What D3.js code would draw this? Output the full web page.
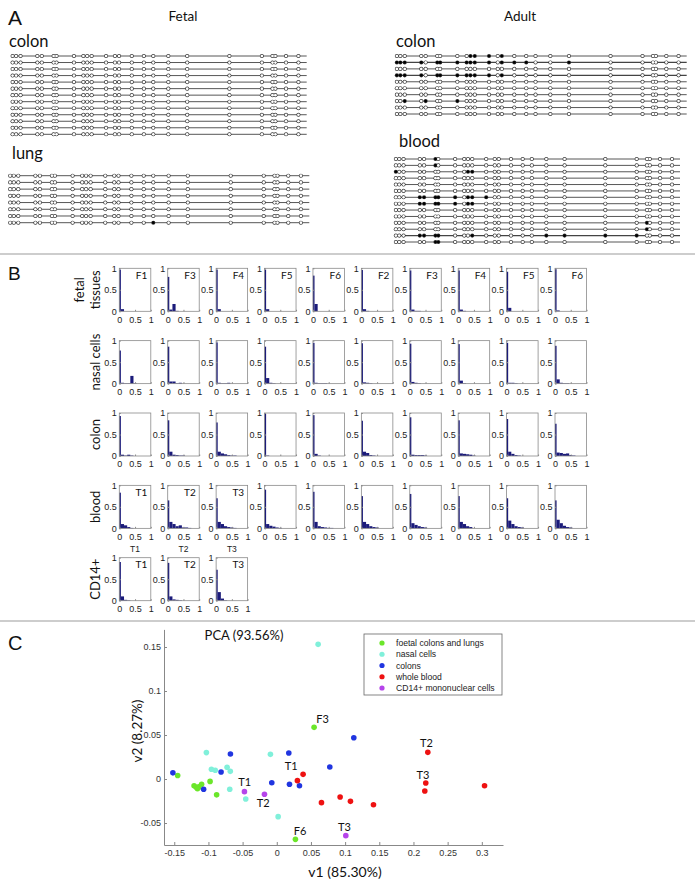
<!DOCTYPE html>
<html><head><meta charset="utf-8">
<script src="https://cdn.jsdelivr.net/npm/d3@7"></script>
<style>body{margin:0;background:#fff}</style>
</head><body>
<svg id="fig" width="695" height="888"></svg>
<script>
// ---------------- DATA ----------------
// Panel A: CpG site positions (relative units 0..1000 along the amplicon)
const cpgSites = [3, 15, 30, 87, 102, 142, 152, 211, 243, 256, 271, 320, 350, 364, 407, 448, 480, 531, 595, 738, 848, 884, 894, 930, 972];
// methylated site indices per clone (row)
const fetalColonMeth = [[],[],[],[],[],[],[],[],[],[],[],[],[]];
const fetalLungMeth = [[],[],[],[],[],[],[],[16]];
const adultColonMeth = [[9,10,11,13],[0,1,2,3,5,6,7,8,9,10,11,13,14,15,18],[],[0,1,2,3,5,6,7,8,9,10,11,13],[],[],[],[2,4,7],[],[]];
const adultBloodMeth = [[5],[5],[0,9,10],[],[],[],[3,4,5,6,7,9,10,11],[3,4,5,6,7,9,10],[],[],[21],[21],[3,4,5,6,10,17,18,19,20],[5,6]];

// Panel B: histogram bin centres and frequencies
const histBins = [0,0.1,0.2,0.3,0.4,0.5,0.6,0.7,0.8,0.9,1.0];
const histRowNames = [["fetal","tissues"],["nasal cells"],["colon"],["blood"],["CD14+"]];
const histTitles = [
  ["F1","F3","F4","F5","F6","F2","F3","F4","F5","F6"],
  ["","","","","","","","","",""],
  ["","","","","","","","","",""],
  ["T1","T2","T3","","","","","","",""],
  ["T1","T2","T3"]
];
const histUnderLabels = ["T1","T2","T3"];
const histFetal = [
  [0.97,0.05],[0.80,0.04,0.17,0.01],[0.97,0.05],[0.97,0.05],[0.83,0.17],
  [0.96,0.05,0.01],[0.95,0.04,0.01,0.01],[0.95,0.04,0.01],[0.92,0.08],[0.98,0.02]
];
const histNasal = [
  [0.77,0.02,0.01,0.01,0.18,0.01],[0.86,0.05,0.05,0.01,0.02],[0.96,0.02,0.01,0.01,0.02],[0.86,0.13,0.02,0.01],[0.95,0.02,0.01,0.01,0.01],
  [0.94,0.03,0.02,0.01],[0.93,0.04,0.02,0.01],[0.92,0.07,0.01],[0.95,0.02,0.02,0.01],[0.88,0.10,0.02,0.01,0.01]
];
const histColon = [
  [0.93,0.03,0.01,0.03,0.01],[0.83,0.10,0.03,0.02,0.01,0.01],[0.78,0.10,0.06,0.04,0.02,0.01,0.01],[0.98,0.01],[0.95,0.05,0.01],
  [0.82,0.10,0.07,0.02,0.01],[0.90,0.03,0.02,0.02,0.02,0.01],[0.83,0.06,0.05,0.04,0.03,0.01],[0.86,0.10,0.05,0.02,0.01],[0.75,0.08,0.07,0.05,0.06,0.02,0.01]
];
const histBlood = [
  [0.83,0.10,0.07,0.03,0.01],[0.65,0.15,0.10,0.05,0.07,0.02,0.02,0.01],[0.70,0.15,0.10,0.05,0.03,0.02,0.01],[0.90,0.10,0.06,0.04,0.02,0.01],[0.85,0.15,0.05,0.03,0.02,0.01,0.01],
  [0.75,0.15,0.10,0.05,0.03,0.02],[0.80,0.12,0.08,0.05,0.03,0.02],[0.75,0.15,0.10,0.05,0.03],[0.70,0.18,0.10,0.05,0.03,0.02],[0.65,0.20,0.12,0.06,0.03,0.02]
];
const histCD14 = [[0.90,0.10,0.02,0.01],[0.88,0.10,0.03,0.02,0.01],[0.72,0.20,0.05,0.01]];

// Panel C: PCA coordinates [v1, v2]
const pcaGroups = ["foetal colons and lungs","nasal cells","colons","whole blood","CD14+ mononuclear cells"];
const pcaFoetal = [[-0.145,0.004],[-0.121,-0.0076],[-0.118,-0.0095],[-0.114,-0.009],[-0.110,-0.006],[-0.116,-0.011],[-0.0976,-0.0027],[-0.088,-0.018],[0.0546,0.0587],[0.0273,-0.0686]];
const pcaNasal = [[-0.103,0.030],[-0.0956,0.011],[-0.090,0.0099],[-0.0727,0.0133],[-0.068,0.0087],[-0.0688,-0.0117],[-0.0454,-0.0227],[-0.0093,0.028],[0.002,-0.0428],[0.0605,0.153]];
const pcaColons = [[-0.152,0.007],[-0.107,-0.0117],[-0.0815,0.008],[-0.0678,0.0284],[-0.0073,-0.0042],[0.0176,0.0295],[0.0186,-0.006],[0.0332,-0.0076],[0.0776,0.0136],[0.1127,0.0469]];
const pcaBlood = [[0.0302,-0.0019],[0.0385,0.0053],[0.0654,-0.0269],[0.0927,-0.0205],[0.1078,-0.0254],[0.1415,-0.0292],[0.221,0.0303],[0.218,-0.0045],[0.2166,-0.0136],[0.304,-0.0076]];
const pcaCD14 = [[-0.0473,-0.0144],[-0.018,-0.0174],[0.101,-0.0644]];
const pcaLabels = [["T1",-0.047,-0.004],["T2",-0.020,-0.028],["T1",0.021,0.0148],["F3",0.067,0.068],["F6",0.034,-0.059],["T3",0.099,-0.055],["T2",0.219,0.041],["T3",0.214,0.004]];
const pcaXTicks = [-0.15,-0.1,-0.05,0,0.05,0.1,0.15,0.2,0.25,0.3];
const pcaYTicks = [-0.05,0,0.05,0.1,0.15];

// ---------------- DRAWING ----------------
const svg = d3.select("#fig");
const SANS = "'Liberation Sans', Arial, sans-serif";
const HUM = "Lato, 'Open Sans', sans-serif";

// separators
[254, 621].forEach(y => svg.append("line").attr("x1",0).attr("x2",695).attr("y1",y).attr("y2",y)
  .attr("stroke","#bdbdbd").attr("stroke-width",1.5));

// panel letters
[["A",8,25,21],["B",8,280,19],["C",8,650,20]].forEach(([t,x,y,s]) =>
  svg.append("text").attr("x",x).attr("y",y).attr("font-family",SANS).attr("font-size",s).attr("fill","#111").text(t));

// ---------- Panel A ----------
svg.append("text").attr("x",183).attr("y",21).attr("text-anchor","middle").attr("font-family",HUM).attr("font-size",13.5).attr("fill","#111").text("Fetal");
svg.append("text").attr("x",520).attr("y",21).attr("text-anchor","middle").attr("font-family",HUM).attr("font-size",13.5).attr("fill","#111").text("Adult");

const blocks = [
  {title:"colon", meth:fetalColonMeth, x0:11.7, x1:306.7, y0:56, y1:134.3, tx:9, ty:47},
  {title:"lung", meth:fetalLungMeth, x0:9.3, x1:309.3, y0:175.7, y1:222.7, tx:12, ty:159},
  {title:"colon", meth:adultColonMeth, x0:396, x1:686.7, y0:56, y1:114, tx:396, ty:47},
  {title:"blood", meth:adultBloodMeth, x0:395, x1:680, y0:159, y1:242, tx:399, ty:147}
];
blocks.forEach(b => {
  const xs = d3.scaleLinear().domain([0,1000]).range([b.x0,b.x1]);
  const ys = d3.scalePoint().domain(d3.range(b.meth.length)).range([b.y0,b.y1]);
  const g = svg.append("g");
  g.append("text").attr("x",b.tx).attr("y",b.ty).attr("font-family",HUM).attr("font-size",16.5).attr("fill","#111").text(b.title);
  b.meth.forEach((m,ri) => {
    const y = ys(ri);
    g.append("line").attr("x1",xs(0)).attr("x2",xs(1000)).attr("y1",y).attr("y2",y)
      .attr("stroke","#444").attr("stroke-width",m.length>8?1.3:0.9);
    const set = new Set(m);
    g.selectAll(null).data(cpgSites).enter().append("circle")
      .attr("cx",d=>xs(d)).attr("cy",y).attr("r",2.05).attr("fill","#333");
    g.selectAll(null).data(cpgSites).enter().append("circle")
      .attr("cx",d=>xs(d)).attr("cy",y).attr("r",1.35)
      .attr("fill",(d,i)=> set.has(i) ? "#000" : "#fff");
  });
});

// ---------- Panel B ----------
const histAll = [histFetal, histNasal, histColon, histBlood, histCD14];
const colX = d3.scaleLinear().domain([0,9]).range([119.3, 555]);
const rowY = d3.scaleLinear().domain([0,4]).range([268.3, 557.7]);
const HW = 31.5, HH = 43;
const hx = d3.scaleLinear().domain([0,1]).range([0,HW]);
const hy = d3.scaleLinear().domain([0,1]).range([HH,0]);

histAll.forEach((row, r) => {
  const names = histRowNames[r];
  const cy = rowY(r) + HH/2;
  names.forEach((n, k) => {
    const bx = names.length === 2 ? (k===0 ? 84 : 100) : 100;
    svg.append("text").attr("transform",`translate(${bx},${cy}) rotate(-90)`)
      .attr("text-anchor","middle").attr("font-family",HUM).attr("font-size",13).attr("fill","#111").text(n);
  });
  row.forEach((vals, c) => {
    const g = svg.append("g").attr("transform",`translate(${colX(c)},${rowY(r)})`);
    g.append("rect").attr("width",HW).attr("height",HH).attr("fill","#fff");
    const bars = histBins.map((b,i)=>({b, v: vals[i]||0})).filter(d=>d.v>0);
    g.selectAll(null).data(bars).enter().append("rect")
      .attr("x",d=>hx(Math.max(0,d.b-0.05)))
      .attr("width",d=>hx(Math.min(1,d.b+0.05))-hx(Math.max(0,d.b-0.05)))
      .attr("y",d=>hy(d.v)).attr("height",d=>HH-hy(d.v))
      .attr("fill","#1b1b7a");
    g.append("rect").attr("width",HW).attr("height",HH).attr("fill","none").attr("stroke","#8a8a8a").attr("stroke-width",0.8);
    const ay = d3.axisLeft(hy).tickValues([0,0.5,1]).tickFormat(d=>String(d)).tickSizeInner(-1.5).tickSizeOuter(0).tickPadding(2.5);
    const ax = d3.axisBottom(hx).tickValues([0,0.5,1]).tickFormat(d=>String(d)).tickSizeInner(-1.5).tickSizeOuter(0).tickPadding(5);
    [g.append("g").call(ay), g.append("g").attr("transform",`translate(0,${HH})`).call(ax)].forEach(a => {
      a.select(".domain").remove();
      a.selectAll("line").attr("stroke","#8a8a8a");
      a.selectAll("text").attr("font-family",SANS).attr("font-size",9).attr("fill","#222");
    });
    const t = (histTitles[r]||[])[c];
    if (t) g.append("text").attr("x",HW-3.5).attr("y",10.5).attr("text-anchor","end")
      .attr("font-family",HUM).attr("font-size",10).attr("fill","#111").text(t);
    if (r === 3 && histUnderLabels[c]) g.append("text").attr("x",HW/2).attr("y",HH+23.5).attr("text-anchor","middle")
      .attr("font-family",SANS).attr("font-size",8.5).attr("fill","#222").text(histUnderLabels[c]);
  });
});

// ---------- Panel C ----------
const px = d3.scaleLinear().domain([-0.165,0.331]).range([164,503]);
const py = d3.scaleLinear().domain([-0.075,0.17]).range([845,629.4]);
const pc = svg.append("g");
const fmt = d => d===0 ? "0" : String(+d.toFixed(2));
const axY = pc.append("g").attr("transform","translate(164,0)")
  .call(d3.axisLeft(py).tickValues(pcaYTicks).tickFormat(fmt).tickSizeInner(-3).tickSizeOuter(0).tickPadding(3));
const axX = pc.append("g").attr("transform","translate(0,845)")
  .call(d3.axisBottom(px).tickValues(pcaXTicks).tickFormat(fmt).tickSizeInner(-3).tickSizeOuter(0).tickPadding(5));
[axY, axX].forEach(a => {
  a.select(".domain").attr("stroke","#888").attr("stroke-width",1);
  a.selectAll("line").attr("stroke","#888");
  a.selectAll("text").attr("font-family",SANS).attr("font-size",9).attr("fill","#333");
});

const colors = ["#6be62a","#80f0da","#2035e0","#ee1111","#b544ea"];
[pcaFoetal,pcaNasal,pcaColons,pcaBlood,pcaCD14].forEach((pts,gi) => {
  pc.selectAll(null).data(pts).enter().append("circle")
    .attr("cx",d=>px(d[0])).attr("cy",d=>py(d[1])).attr("r",2.8).attr("fill",colors[gi]);
});
pc.selectAll(null).data(pcaLabels).enter().append("text")
  .attr("x",d=>px(d[1])).attr("y",d=>py(d[2])).attr("dy","0.35em").attr("text-anchor","middle")
  .attr("font-family",HUM).attr("font-size",11).attr("fill","#111").text(d=>d[0]);

pc.append("text").attr("x",244).attr("y",640).attr("text-anchor","middle").attr("font-family",HUM).attr("font-size",13).attr("fill","#111").text("PCA (93.56%)");
pc.append("text").attr("x",345).attr("y",877).attr("text-anchor","middle").attr("font-family",HUM).attr("font-size",14).attr("fill","#111").text("v1 (85.30%)");
pc.append("text").attr("transform","translate(142,731) rotate(-90)").attr("text-anchor","middle").attr("font-family",HUM).attr("font-size",13.5).attr("fill","#111").text("v2 (8.27%)");

// legend
const lg = pc.append("g");
lg.append("rect").attr("x",364).attr("y",634).attr("width",138).attr("height",61).attr("fill","#fff").attr("stroke","#666").attr("stroke-width",0.8);
const ly = d3.scalePoint().domain(pcaGroups).range([643,688]);
pcaGroups.forEach((n,i) => {
  lg.append("circle").attr("cx",382).attr("cy",ly(n)).attr("r",2.6).attr("fill",colors[i]);
  lg.append("text").attr("x",396).attr("y",ly(n)).attr("dy","0.35em").attr("font-family",SANS).attr("font-size",8.6).attr("fill","#222").text(n);
});
</script>
</body></html>
